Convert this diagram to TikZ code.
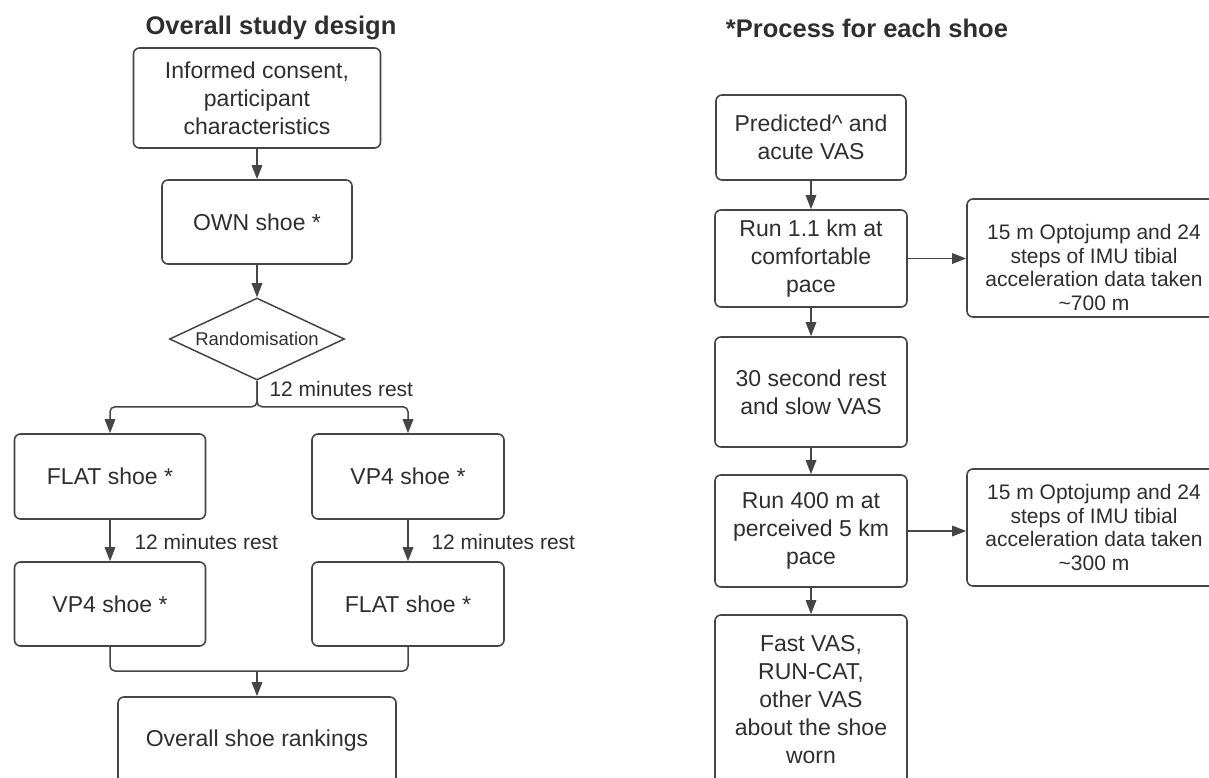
\documentclass[tikz,border=0pt]{standalone}
\usepackage{fontspec}
\setmainfont{Liberation Sans}
\usetikzlibrary{shapes.geometric,arrows.meta}
\definecolor{ink}{HTML}{2E2E2E}
\definecolor{edge}{HTML}{454545}

\begin{document}
\begin{tikzpicture}[
  x=1pt, y=-1pt,
  box/.style={draw=edge, line width=1.6pt, rounded corners=6pt, align=center, text=ink, inner sep=0pt, font=\fontsize{23}{28}\selectfont},
  sidebox/.style={box, minimum width=254pt, font=\fontsize{21}{23.5}\selectfont},
  choice/.style={diamond, draw=edge, line width=1.5pt, shape aspect=2.13, inner sep=0pt, minimum width=175pt, minimum height=82pt, text=ink, font=\fontsize{18.5}{22}\selectfont},
  link/.style={draw=edge, line width=1.5pt, -{Triangle[length=14pt,width=10.5pt]}},
  note/.style={text=ink, anchor=west, font=\fontsize{21}{25}\selectfont},
  heading/.style={text=ink, font=\bfseries\fontsize{25.5}{30}\selectfont}
]
\useasboundingbox (0,0) rectangle (1209,778);
\clip (0,0) rectangle (1209,778);

\node[heading] (titleA) at (271,28) {Overall study design};
\node[heading] (titleB) at (867,28) {*Process for each shoe};

% overall study design
\node[box, minimum width=247pt, minimum height=100pt] (consent) at (257,98) {Informed consent,\\participant\\characteristics};
\node[box, minimum width=190pt, minimum height=84pt] (own) at (257,222) {OWN shoe *};
\node[choice] (rand) at (257,339) {Randomisation};
\node[box, minimum width=191pt, minimum height=85pt] (flatA) at (110,476.5) {FLAT shoe *};
\node[box, minimum width=191pt, minimum height=84pt] (vpA) at (110,604) {VP4 shoe *};
\node[box, minimum width=192pt, minimum height=85pt] (vpB) at (408,476.5) {VP4 shoe *};
\node[box, minimum width=192pt, minimum height=84pt] (flatB) at (408,604) {FLAT shoe *};
\node[box, minimum width=278pt, minimum height=88pt] (rank) at (257,741) {Overall shoe rankings};
\coordinate (merge) at (257,671);

\draw[link] (consent) -- (own);
\draw[link] (own) -- (rand);
\draw[link, rounded corners=5pt] (rand.south) -- ++(0,26) -| (flatA.north);
\draw[link, rounded corners=5pt] (rand.south) -- ++(0,26) -| (vpB.north);
\node[note] (restTop) at (266,389) {12 minutes rest};
\draw[link] (flatA) -- (vpA);
\node[note] (restA) at (131,542) {12 minutes rest};
\draw[link] (vpB) -- (flatB);
\node[note] (restB) at (428,542) {12 minutes rest};
\draw[link, -, rounded corners=5pt] (vpA.south) |- (merge);
\draw[link, -, rounded corners=5pt] (flatB.south) |- (merge);
\draw[link] (merge) -- (rank);

% process for each shoe
\node[box, minimum width=190pt, minimum height=85pt] (acute) at (811,137.5) {Predicted\textasciicircum{} and\\acute VAS};
\node[box, minimum width=192pt, minimum height=97pt] (runA) at (811,258.5) {Run 1.1 km at\\comfortable\\pace};
\node[box, minimum width=192pt, minimum height=110pt] (rest) at (811,392) {30 second rest\\and slow VAS};
\node[box, minimum width=192pt, minimum height=112pt] (runB) at (811,531) {Run 400 m at\\perceived 5 km\\pace};
\node[box, minimum width=192pt, minimum height=170pt] (fast) at (811,700) {Fast VAS,\\RUN-CAT,\\other VAS\\about the shoe\\worn};
\node[sidebox, minimum height=118pt] (dataA) at (1094,258) {\rule{0pt}{34pt}15 m Optojump and 24\\steps of IMU tibial\\acceleration data taken\\\textasciitilde700 m};
\node[sidebox, minimum height=117pt] (dataB) at (1094,527.5) {15 m Optojump and 24\\steps of IMU tibial\\acceleration data taken\\\textasciitilde300 m};

\draw[link] (acute) -- (runA);
\draw[link] (runA) -- (rest);
\draw[link] (rest) -- (runB);
\draw[link] (runB) -- (fast);
\draw[link] (runA.east) -- (runA.east -| dataA.west);
\draw[link] (runB.east) -- (runB.east -| dataB.west);
\end{tikzpicture}
\end{document}
